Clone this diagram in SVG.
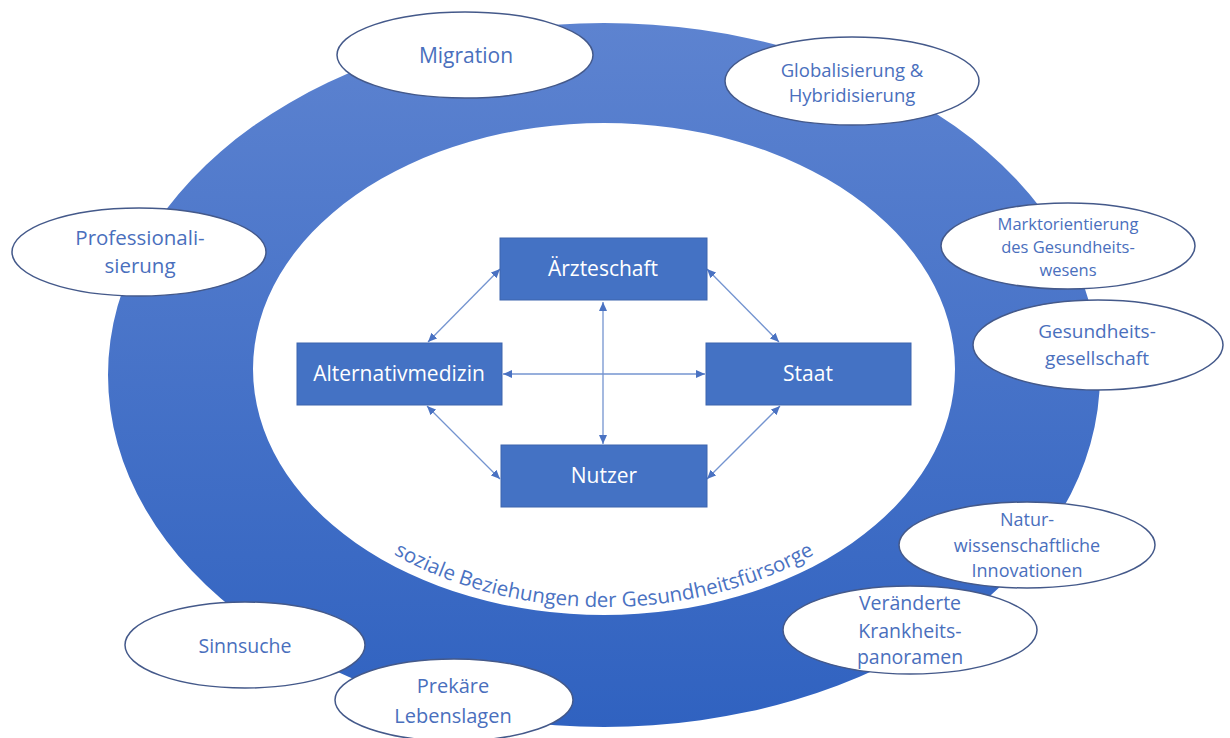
<svg xmlns="http://www.w3.org/2000/svg" width="1230" height="738" viewBox="0 0 1230 738">
<style>
.box{fill:#4472c4;stroke:#3d65ad;stroke-width:1}
.boxt{fill:#ffffff;font-family:"Open Sans","Liberation Sans",sans-serif;font-size:21px;text-anchor:middle}
.sat{fill:#ffffff;stroke:#44598a;stroke-width:1.5}
.satt{fill:#4a6fbd;font-family:"Open Sans","Liberation Sans",sans-serif;text-anchor:middle}
.con{stroke:#7494d0;stroke-width:1.3;fill:none;marker-start:url(#ah);marker-end:url(#ah)}
</style>
<defs>
<linearGradient id="ring" x1="0" y1="0" x2="0" y2="1">
<stop offset="0" stop-color="#5d83d0"/>
<stop offset="1" stop-color="#3062c0"/>
</linearGradient>
<marker id="ah" markerUnits="userSpaceOnUse" markerWidth="10" markerHeight="8" refX="9" refY="4" orient="auto-start-reverse">
<path d="M0,0 L9,4 L0,8 Z" fill="#4a72c2"/>
</marker>
<path id="arc" d="M269,369 A335,238 0 0 0 939,369"/>
</defs>
<rect width="1230" height="738" fill="#ffffff"/>
<g id="ring-shape">
<path d="M108,375 A496,352 0 1 0 1100,375 A496,352 0 1 0 108,375 Z M253,369 A351,246 0 1 1 955,369 A351,246 0 1 1 253,369 Z" fill="url(#ring)" fill-rule="evenodd"/>
<text font-family="'Open Sans','Liberation Sans',sans-serif" font-size="20.5" fill="#4a72c2" text-anchor="middle"><textPath href="#arc" startOffset="50%">soziale Beziehungen der Gesundheitsfürsorge</textPath></text>
</g>
<g id="connectors">
<line class="con" x1="428" y1="342" x2="500" y2="269"/>
<line class="con" x1="707" y1="269" x2="779" y2="342"/>
<line class="con" x1="603" y1="302" x2="603" y2="444"/>
<line class="con" x1="503" y1="374" x2="705" y2="374"/>
<line class="con" x1="427" y1="406" x2="500" y2="479"/>
<line class="con" x1="780" y1="406" x2="707" y2="479"/>
</g>
<g id="aerzteschaft"><rect class="box" x="500" y="238" width="207" height="62"/><text class="boxt" x="603" y="276">Ärzteschaft</text></g>
<g id="alternativmedizin"><rect class="box" x="297" y="343" width="205" height="62"/><text class="boxt" x="399" y="381">Alternativmedizin</text></g>
<g id="staat"><rect class="box" x="706" y="343" width="205" height="62"/><text class="boxt" x="808" y="381">Staat</text></g>
<g id="nutzer"><rect class="box" x="501" y="445" width="206" height="62"/><text class="boxt" x="604" y="483">Nutzer</text></g>
<g id="migration"><ellipse class="sat" cx="465" cy="55" rx="128" ry="43"/><text class="satt" x="466" y="63" font-size="21">Migration</text></g>
<g id="globalisierung"><ellipse class="sat" cx="852" cy="81" rx="127" ry="44"/><text class="satt" font-size="18.5"><tspan x="852" y="77">Globalisierung &amp;</tspan><tspan x="852" y="102">Hybridisierung</tspan></text></g>
<g id="marktorientierung"><ellipse class="sat" cx="1068" cy="246" rx="127" ry="43"/><text class="satt" font-size="16.5"><tspan x="1068" y="230">Marktorientierung</tspan><tspan x="1068" y="253">des Gesundheits-</tspan><tspan x="1068" y="276">wesens</tspan></text></g>
<g id="gesundheitsgesellschaft"><ellipse class="sat" cx="1098" cy="345" rx="125" ry="45"/><text class="satt" font-size="19"><tspan x="1097" y="338">Gesundheits-</tspan><tspan x="1097" y="365">gesellschaft</tspan></text></g>
<g id="professionalisierung"><ellipse class="sat" cx="139" cy="252" rx="127" ry="44"/><text class="satt" font-size="20.5"><tspan x="140" y="245">Professionali-</tspan><tspan x="140" y="273">sierung</tspan></text></g>
<g id="naturwissenschaftliche"><ellipse class="sat" cx="1027" cy="545" rx="128" ry="43"/><text class="satt" font-size="18"><tspan x="1027" y="526">Natur-</tspan><tspan x="1027" y="552">wissenschaftliche</tspan><tspan x="1027" y="577">Innovationen</tspan></text></g>
<g id="veraenderte"><ellipse class="sat" cx="910" cy="630" rx="127" ry="44"/><text class="satt" font-size="19.5"><tspan x="910" y="610">Veränderte</tspan><tspan x="910" y="638">Krankheits-</tspan><tspan x="910" y="664">panoramen</tspan></text></g>
<g id="sinnsuche"><ellipse class="sat" cx="245" cy="645" rx="120" ry="43"/><text class="satt" x="245" y="653" font-size="19.5">Sinnsuche</text></g>
<g id="prekaere"><ellipse class="sat" cx="454" cy="700" rx="119" ry="41"/><text class="satt" font-size="20"><tspan x="453" y="693">Prekäre</tspan><tspan x="453" y="723">Lebenslagen</tspan></text></g>
</svg>
